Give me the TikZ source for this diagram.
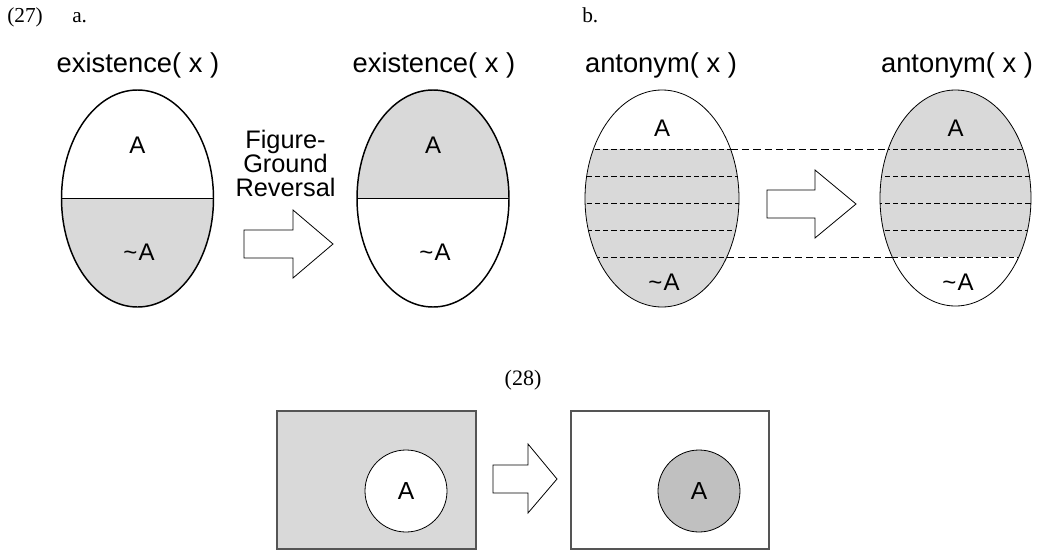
\documentclass[tikz,border=0pt]{standalone}
\usepackage{fontspec}
\setmainfont{Liberation Serif}
\setsansfont{Liberation Sans}
\definecolor{lg}{HTML}{D9D9D9}
\definecolor{dg}{HTML}{C0C0C0}
\definecolor{rectline}{HTML}{555555}
\begin{document}
\begin{tikzpicture}[x=0.75pt,y=-0.75pt,
  title/.style={font=\sffamily\fontsize{20.5}{23}\selectfont, inner sep=0},
  lab/.style={font=\sffamily\fontsize{18}{21}\selectfont, inner sep=0},
  num/.style={font=\fontsize{16}{18}\selectfont, inner sep=0, anchor=base west},
  barrow/.style={draw, line width=0.6pt, fill=white, line join=miter},
  thick ell/.style={line width=1.1pt},
  thin ell/.style={line width=0.6pt},
  inner dash/.style={line width=0.6pt, dash pattern=on 4pt off 2.2pt},
  outer dash/.style={line width=0.8pt, dash pattern=on 5.5pt off 3pt},
  ]
\path[use as bounding box] (0,0) rectangle (1050,550);

% numbering
\node[num] (n27) at (7,22) {(27)};
\node[num] (na) at (72,22) {a.};
\node[num] (nb) at (582,22) {b.};
\node[font=\fontsize{16.5}{18}\selectfont, inner sep=0] (n28) at (523,380) {(28)};

% ---------- (27a) ----------
\node[title] (t1) at (138,65) {existence( x )};
\node[title] (t2) at (434,65) {existence( x )};

\coordinate (e1) at (137.5,198.5);
\coordinate (e1l) at (61.5,198.5);
\coordinate (e1r) at (213.5,198.5);
\begin{scope}
  \clip (e1) ellipse [x radius=76, y radius=108.5];
  \fill[lg] (50,198.5) rectangle (230,320);
\end{scope}
\draw[thick ell] (e1) ellipse [x radius=76, y radius=108.5];
\draw[thick ell] (e1l) -- (e1r);
\node[lab] (a1) at (137.5,145) {A};
\node[lab] (na1) at (139,252) {\textasciitilde\kern1pt A};

\coordinate (e2) at (433,198.5);
\coordinate (e2l) at (357,198.5);
\coordinate (e2r) at (509,198.5);
\begin{scope}
  \clip (e2) ellipse [x radius=76, y radius=108.5];
  \fill[lg] (340,80) rectangle (520,198.5);
\end{scope}
\draw[thick ell] (e2) ellipse [x radius=76, y radius=108.5];
\draw[thick ell] (e2l) -- (e2r);
\node[lab] (a2) at (433,145) {A};
\node[lab] (na2) at (435,252) {\textasciitilde\kern1pt A};

\node[font=\sffamily\fontsize{19}{18}\selectfont, align=center, inner sep=0] (fg) at (285.5,163) {Figure-\\Ground\\Reversal};
\draw[barrow] (244,230) -- (293,230) -- (293,210) -- (333,244) -- (293,278) -- (293,258) -- (244,258) -- cycle;

% ---------- (27b) ----------
\node[title] (t3) at (661,65) {antonym( x )};
\node[title] (t4) at (957,65) {antonym( x )};

\coordinate (e3) at (662,198.5);
\begin{scope}
  \clip (e3) ellipse [x radius=77, y radius=108.5];
  \fill[lg] (570,149.3) rectangle (760,320);
  \foreach \yy in {149.3,176.3,203.3,230.3,257.3}
    \draw[inner dash] (570,\yy) -- (760,\yy);
\end{scope}
\draw[thin ell] (e3) ellipse [x radius=77, y radius=108.5];
\node[lab] (a3) at (662,128) {A};
\node[lab] (na3) at (664,282) {\textasciitilde\kern1pt A};

\coordinate (e4) at (955.5,198);
\begin{scope}
  \clip (e4) ellipse [x radius=75.5, y radius=108];
  \fill[lg] (860,80) rectangle (1045,257.3);
  \foreach \yy in {149.3,176.3,203.3,230.3,257.3}
    \draw[inner dash] (860,\yy) -- (1045,\yy);
\end{scope}
\draw[thin ell] (e4) ellipse [x radius=75.5, y radius=108];
\node[lab] (a4) at (955.5,128) {A};
\node[lab] (na4) at (958,282) {\textasciitilde\kern1pt A};

\coordinate (d1a) at (730.6,149.3);
\coordinate (d1b) at (888.1,149.3);
\coordinate (d2a) at (726.7,257.3);
\coordinate (d2b) at (892.4,257.3);
\draw[outer dash] (d1a) -- (d1b);
\draw[outer dash] (d2a) -- (d2b);

\draw[barrow] (767,190) -- (815,190) -- (815,170) -- (856,204) -- (815,238) -- (815,218) -- (767,218) -- cycle;

% ---------- (28) ----------
\draw[rectline, fill=lg, line width=0.8pt] (277,411) rectangle (476,549);
\node[circle, draw, fill=white, line width=0.6pt, minimum size=61.5pt, inner sep=0, font=\sffamily\fontsize{18.5}{21}\selectfont] (c1) at (406,491) {A};
\draw[barrow] (493,465) -- (528,465) -- (528,444) -- (557,479) -- (528,513) -- (528,493) -- (493,493) -- cycle;
\draw[rectline, fill=white, line width=0.8pt] (571,411) rectangle (769,549);
\node[circle, draw, fill=dg, line width=0.6pt, minimum size=61.5pt, inner sep=0, font=\sffamily\fontsize{18.5}{21}\selectfont] (c2) at (699,491) {A};
\end{tikzpicture}
\end{document}
